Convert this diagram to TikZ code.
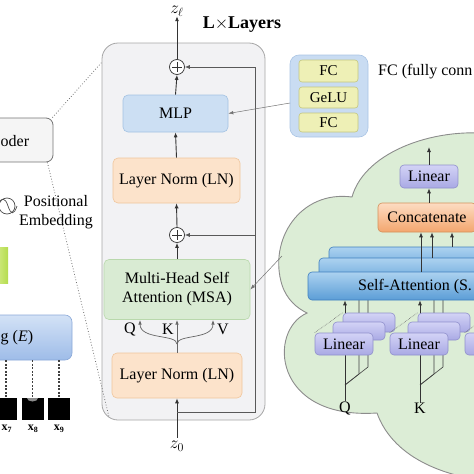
\documentclass[tikz,border=0pt]{standalone}
\usepackage{fontspec}
\setmainfont{Liberation Serif}
\usetikzlibrary{arrows.meta}
\definecolor{bigfill}{HTML}{F2F2F4}
\definecolor{bigdraw}{HTML}{A6A6A6}
\definecolor{mlpfill}{HTML}{CCDFF3}
\definecolor{mlpdraw}{HTML}{A3C2E2}
\definecolor{lnfill}{HTML}{FCE3CB}
\definecolor{lndraw}{HTML}{F0C69C}
\definecolor{msafill}{HTML}{D9EBD3}
\definecolor{msadraw}{HTML}{B9D8AC}
\definecolor{fcofill}{HTML}{C9DCF2}
\definecolor{fcodraw}{HTML}{A9C4E4}
\definecolor{fcifill}{HTML}{EEF0B6}
\definecolor{fcidraw}{HTML}{C4C77E}
\definecolor{cloudfill}{HTML}{DCEDD6}
\definecolor{clouddraw}{HTML}{8C8C8C}
\definecolor{linTop}{HTML}{D3D3F6}
\definecolor{linBot}{HTML}{A9A9E4}
\definecolor{linDraw}{HTML}{9090CC}
\definecolor{catTop}{HTML}{FDDCC2}
\definecolor{catBot}{HTML}{F3A66E}
\definecolor{catDraw}{HTML}{D4905A}
\definecolor{saTop}{HTML}{ACD2F0}
\definecolor{saBot}{HTML}{5B9DD6}
\definecolor{saDraw}{HTML}{3F7FBF}
\definecolor{encfill}{HTML}{F5F5F5}
\definecolor{embTop}{HTML}{D3E2F6}
\definecolor{embBot}{HTML}{9EBCE8}
\definecolor{embDraw}{HTML}{8AA8D8}
\definecolor{grnL}{HTML}{DDF199}
\definecolor{grnR}{HTML}{B5DC4E}
\begin{document}
\begin{tikzpicture}[x=1pt,y=-1pt,
  font=\fontsize{16}{19}\selectfont,
  blk/.style={draw, rounded corners=5pt, line width=0.6pt, inner sep=0pt, align=center},
  bigbox/.style={blk, rounded corners=16pt, draw=bigdraw, fill=bigfill, line width=0.8pt},
  mlpbox/.style={blk, fill=mlpfill, draw=mlpdraw},
  lnbox/.style={blk, fill=lnfill, draw=lndraw},
  msabox/.style={blk, fill=msafill, draw=msadraw},
  fcouter/.style={blk, rounded corners=9pt, fill=fcofill, draw=fcodraw},
  fcinner/.style={blk, rounded corners=3pt, fill=fcifill, draw=fcidraw, font=\fontsize{15}{17}\selectfont},
  linbox/.style={blk, rounded corners=4pt, top color=linTop, bottom color=linBot, draw=linDraw},
  catbox/.style={blk, rounded corners=4pt, top color=catTop, bottom color=catBot, draw=catDraw},
  sabox/.style={blk, rounded corners=4pt, top color=saTop, bottom color=saBot, draw=saDraw},
  encbox/.style={blk, rounded corners=7pt, fill=encfill, draw=black!55, line width=0.8pt},
  embbox/.style={blk, rounded corners=7pt, top color=embTop, bottom color=embBot, draw=embDraw},
  grnbox/.style={blk, rounded corners=0pt, left color=grnL, right color=grnR, draw=none},
  patchsq/.style={fill=black, draw=none, minimum size=22pt, inner sep=0pt},
  plusnode/.style={circle, draw=black!80, line width=0.7pt, fill=white, minimum size=15pt, inner sep=0pt,
    path picture={\draw[line width=0.7pt] ([yshift=-2.5pt]path picture bounding box.north) -- ([yshift=2.5pt]path picture bounding box.south)
      ([xshift=2.5pt]path picture bounding box.west) -- ([xshift=-2.5pt]path picture bounding box.east);}},
  flow/.style={-{Latex[length=5pt,width=4pt]}, draw=black!80, line width=0.9pt},
  resarrow/.style={-{Latex[length=5pt,width=4pt]}, draw=black!65, line width=0.7pt},
  fanarrow/.style={-{Latex[length=4.5pt,width=3.5pt]}, draw=black!60, line width=0.7pt},
  garrow/.style={-{Latex[length=5pt,width=3.5pt]}, draw=black!55, line width=0.5pt},
  branch/.style={draw=black!75, line width=0.6pt},
  dotline/.style={draw=black!55, line width=0.8pt, dotted},
  patchdash/.style={draw=black!75, line width=1.6pt, dash pattern=on 2pt off 1.5pt},
  lbl/.style={inner sep=0pt}
]
\useasboundingbox (0,0) rectangle (474,474);
\clip (0,0) rectangle (474,474);

% ---------------- left part ----------------
\node[encbox, minimum width=73pt, minimum height=44pt] (enc) at (16.5,140) {};
\node[lbl, anchor=west] (enctxt) at (0.5,141) {oder};

% positional embedding icon
\draw[black!70, line width=0.7pt] (7,206) circle (8);
\draw[black!70, line width=0.7pt] (-4,206) .. controls (2,197) and (5,197) .. (8,206) .. controls (11,215) and (14,215) .. (17,206);
\node[lbl, align=center, font=\fontsize{16}{19}\selectfont] (posemb) at (56,212) {Positional\\Embedding};

\node[grnbox, minimum width=16pt, minimum height=36pt] (patchemb) at (0,265) {};

\node[embbox, minimum width=92pt, minimum height=45pt] (emb) at (26,337.5) {};
\node[lbl, anchor=west] (embtxt) at (0.5,338) {g (\textit{E})};

\node[patchsq] (p7) at (6,409) {};
\node[patchsq] (p8) at (32.5,409) {};
\node[patchsq] (p9) at (59,409) {};
\begin{scope}
  \clip (21.5,398) rectangle (43.5,420);
  \fill[black!45] (32.5,398) ellipse (5.5 and 3.5);
\end{scope}
\draw[patchdash] (p7.north |- emb.south) -- (p7.north);
\draw[patchdash] (p8.north |- emb.south) -- (p8.north);
\draw[patchdash] (p9.north |- emb.south) -- (p9.north);
\node[lbl, font=\fontsize{12}{14}\selectfont] (l7) at (7,429) {$\mathbf{x}_{\mathbf{7}}$};
\node[lbl, font=\fontsize{12}{14}\selectfont] (l8) at (33,429) {$\mathbf{x}_{\mathbf{8}}$};
\node[lbl, font=\fontsize{12}{14}\selectfont] (l9) at (59,429) {$\mathbf{x}_{\mathbf{9}}$};

% ---------------- encoder block ----------------
\node[bigbox, minimum width=163pt, minimum height=377pt] (big) at (183.5,231.5) {};
\coordinate (bigtl) at (102,62);
\coordinate (bigbl) at (109,417);
\draw[dotline] ([xshift=-1pt]enc.north east) -- (bigtl);
\draw[dotline] ([xshift=-6pt]enc.south east) -- (bigbl);

\node[lbl, font=\fontsize{18}{20}\selectfont] (zl) at (177,11) {$z_\ell$};
\node[lbl, font=\bfseries\fontsize{18}{20}\selectfont] (layers) at (242,25) {L$\times$Layers};
\node[plusnode] (plus1) at (177,67) {};
\node[mlpbox, minimum width=105pt, minimum height=37pt] (mlp) at (175.5,113.5) {MLP};
\node[lnbox, minimum width=127pt, minimum height=45pt] (ln1) at (176.5,180.5) {Layer Norm (LN)};
\node[plusnode] (plus2) at (177,235) {};
\node[msabox, minimum width=146pt, minimum height=60pt] (msa) at (177,289.5) {Multi-Head Self\\Attention (MSA)};
\node[lnbox, minimum width=130pt, minimum height=45pt] (ln2) at (177,375.5) {Layer Norm (LN)};
\node[lbl, font=\fontsize{18}{20}\selectfont] (z0) at (177,446) {$z_0$};

\draw[flow] (plus1.north) -- (zl.south);
\draw[flow] (mlp.north) -- (plus1.south);
\draw[flow] (ln1.north) -- (mlp.south);
\draw[flow] (plus2.north) -- (ln1.south);
\draw[flow] (msa.north) -- (plus2.south);
\draw[flow] ([yshift=3pt]z0.north) -- (ln2.south);

% residual connections
\coordinate (res1) at (177,412);
\coordinate (res1r) at (255,412);
\draw[resarrow] (res1) -- (res1r) |- (plus1.east);
\draw[resarrow] (res1r |- plus2.east) -- (plus2.east);

% Q K V fan
\coordinate (fan) at (177,344);
\coordinate (qin) at (140,320);
\coordinate (kin) at (177,320);
\coordinate (vin) at (213,320);
\draw[black!60, line width=0.7pt] (ln2.north) -- (fan);
\draw[fanarrow] (fan) .. controls (177,334) and (140,340) .. (qin);
\draw[fanarrow] (fan) -- (kin);
\draw[fanarrow] (fan) .. controls (177,334) and (213,340) .. (vin);
\node[lbl] (qlbl) at (130,329) {Q};
\node[lbl] (klbl) at (168,329) {K};
\node[lbl] (vlbl) at (223,329) {V};

% ---------------- FC box ----------------
\node[fcouter, minimum width=78pt, minimum height=82pt] (fcbox) at (329,96) {};
\node[fcinner, minimum width=59pt, minimum height=22pt] (fc1) at (328.5,71) {FC};
\node[fcinner, minimum width=59pt, minimum height=21pt] (gelu) at (328.5,97.5) {GeLU};
\node[fcinner, minimum width=59pt, minimum height=19pt] (fc2) at (328.5,122.5) {FC};
\node[lbl, anchor=west] (fctxt) at (378,72) {FC (fully conn};
\coordinate (fcin) at (290,103);
\draw[garrow] (fcin) -- (mlp.east);

% ---------------- cloud ----------------
\path[fill=cloudfill, draw=clouddraw, line width=0.9pt]
  (352,197) .. controls (300,190) and (268,240) .. (282,285)
  .. controls (287,300) and (297,308) .. (307,313)
  .. controls (268,330) and (272,420) .. (377,413)
  .. controls (392,455) and (440,478) .. (500,482)
  -- (500,135)
  .. controls (440,125) and (365,150) .. (352,197) -- cycle;
\coordinate (cloudpt) at (282,256);
\draw[garrow] (cloudpt) -- (msa.east);

% branch lines (behind)
\foreach \g/\dx in {q/0,k/75,v/150} {
  \coordinate (\g-fork) at (345+\dx,385);
  \draw[branch] (\g-fork) -- (359+\dx,374) -- (359+\dx,280);
  \draw[branch] (\g-fork) -- (368+\dx,367) -- (368+\dx,270);
}

\node[sabox, minimum width=211pt, minimum height=29pt] (sa3) at (434.5,261.5) {};
\node[sabox, minimum width=221pt, minimum height=29pt] (sa2) at (429.5,272.5) {};
\node[sabox, minimum width=232pt, minimum height=28pt] (sa1) at (424,286) {};
\node[lbl, anchor=west] (satxt) at (358,287) {Self-Attention (S.};

\node[lbl] (q-lab) at (345,408) {Q};
\node[lbl] (k-lab) at (420,408) {K};
\coordinate (v-lab) at (495,400);
\draw[flow, line width=0.8pt] (q-lab.north) -- (q-lab.north |- sa1.south);
\draw[flow, line width=0.8pt] (k-lab.north) -- (k-lab.north |- sa1.south);
\draw[flow, line width=0.8pt] (v-lab) -- (v-lab |- sa1.south);
\foreach \g/\dx in {q/0,k/75,v/150} {
  \node[linbox, minimum width=52pt, minimum height=19pt] (\g-lin3) at (369+\dx,322.5) {};
  \node[linbox, minimum width=52pt, minimum height=18pt] (\g-lin2) at (359+\dx,331) {};
  \node[linbox, minimum width=58pt, minimum height=22pt] (\g-lin1) at (344+\dx,344) {};
  \draw[black!55, line width=0.6pt, densely dotted] (\g-lin1.north west) -- (\g-lin3.north west);
}
\node[lbl] (q-lintxt) at (q-lin1) {Linear};
\node[lbl] (k-lintxt) at (k-lin1) {Linear};

\node[catbox, minimum width=98pt, minimum height=29pt] (cat) at (427,217.5) {Concatenate};
\node[linbox, minimum width=58pt, minimum height=23pt] (lintop) at (429,176.5) {Linear};
\coordinate (cloudout) at (429,147);
\draw[flow, line width=0.8pt] (lintop.north) -- (cloudout);
\draw[flow, line width=0.8pt] (lintop.south |- cat.north) -- (lintop.south);
\coordinate (c1) at (421,272);
\coordinate (c2) at (432,258);
\coordinate (c3) at (452,247);
\draw[flow, line width=0.8pt] (c1) -- (c1 |- cat.south);
\draw[flow, line width=0.8pt] (c2) -- (c2 |- cat.south);
\draw[flow, line width=0.8pt] (c3) -- (c3 |- cat.south);
\end{tikzpicture}
\end{document}
